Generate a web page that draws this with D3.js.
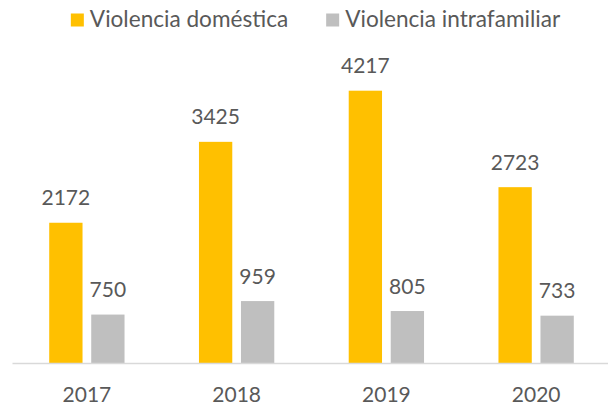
<!DOCTYPE html>
<html>
<head>
<meta charset="utf-8">
<script src="https://cdn.jsdelivr.net/npm/d3@7"></script>
<style>
    body { margin: 0; background: #fff; }
    text { font-family: Lato, "Open Sans", sans-serif; fill: #595959; }
</style>
</head>
<body>
<svg id="chart"></svg>
<script>
const years = ["2017", "2018", "2019", "2020"];
const seriesNames = ["Violencia doméstica", "Violencia intrafamiliar"];
const domestica = [2172, 3425, 4217, 2723];
const intrafamiliar = [750, 959, 805, 733];
const colors = ["#FFC000", "#BFBFBF"];

const width = 608, height = 407;
const baseY = 363;

const svg = d3.select("#chart")
    .attr("width", width)
    .attr("height", height);

const rows = years.map((y, i) => ({ year: y, values: [domestica[i], intrafamiliar[i]] }));

const x = d3.scaleBand()
    .domain(years)
    .range([12, 611])
    .paddingInner(0)
    .paddingOuter(0);

const x1 = d3.scaleBand()
    .domain([0, 1])
    .range([0, x.bandwidth()])
    .paddingInner(0.207)
    .paddingOuter(0.886);

const y = d3.scaleLinear()
    .domain([0, 4217])
    .range([baseY, 90.7]);

// bars
const groups = svg.selectAll(".year")
    .data(rows)
    .enter().append("g")
    .attr("class", "year")
    .attr("transform", d => `translate(${x(d.year)},0)`);

groups.selectAll("rect")
    .data(d => d.values)
    .enter().append("rect")
    .attr("x", (d, i) => x1(i))
    .attr("width", x1.bandwidth())
    .attr("y", d => y(d))
    .attr("height", d => baseY - y(d))
    .style("fill", (d, i) => colors[i]);

// value labels
groups.selectAll(".val")
    .data(d => d.values)
    .enter().append("text")
    .attr("class", "val")
    .attr("x", (d, i) => x1(i) + x1.bandwidth() / 2)
    .attr("y", d => y(d) - 17.5)
    .attr("text-anchor", "middle")
    .style("font-size", "21px")
    .text(d => d);

// x axis
const xAxis = svg.append("g")
    .attr("transform", `translate(0,${baseY})`)
    .call(d3.axisBottom(x).tickSize(0).tickPadding(0));

xAxis.select(".domain")
    .attr("stroke", "#D9D9D9")
    .attr("stroke-width", 1.5);

xAxis.selectAll("text")
    .attr("y", 39)
    .attr("dy", null)
    .style("font-size", "21px")
    .style("font-family", "Lato, sans-serif")
    .attr("fill", "#595959");

// legend
const legend = svg.append("g").attr("class", "legend");
const items = legend.selectAll(".item")
    .data(seriesNames)
    .enter().append("g")
    .attr("class", "item");

items.append("rect")
    .attr("width", 13)
    .attr("height", 13)
    .attr("y", 13.5)
    .style("fill", (d, i) => colors[i]);

const legendText = items.append("text")
    .attr("x", 19)
    .attr("y", 27)
    .style("font-size", "20px")
    .text(d => d);

// fit legend font to the reference text width
const w2 = legendText.nodes()[1].getComputedTextLength();
legendText.style("font-size", (20 * 215 / w2).toFixed(1) + "px");

let offset = 0;
const itemX = [];
items.each(function () {
    itemX.push(offset);
    offset += 19 + this.querySelector("text").getComputedTextLength() + 38;
});
const total = offset - 38;
const startX = 315.5 - total / 2;
items.attr("transform", (d, i) => `translate(${startX + itemX[i]},0)`);
</script>
</body>
</html>
